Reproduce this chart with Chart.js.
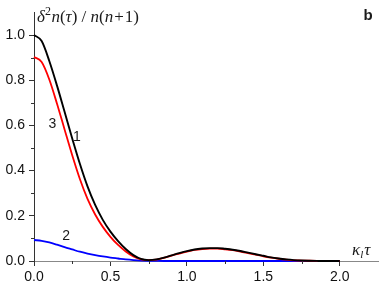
<!DOCTYPE html>
<html><head><meta charset="utf-8">
<script src="https://cdn.jsdelivr.net/npm/chart.js@4/dist/chart.umd.min.js"></script>
<style>html,body{margin:0;padding:0;background:#fff}#wrap{width:382px;height:285px}</style>
</head><body><div id="wrap"><canvas id="c" width="382" height="285"></canvas></div>
<script>
// ---- data ----
const xValues = [0,0.05,0.1,0.15,0.2,0.25,0.3,0.35,0.4,0.45,0.5,0.55,0.6,0.65,0.7,0.75,0.8,0.85,0.9,0.95,1.0,1.05,1.1,1.15,1.2,1.25,1.3,1.35,1.4,1.45,1.5,1.55,1.6,1.65,1.7,1.75,1.8,1.85,1.9,1.95,2.0];
const curve1 = [1.000,0.973,0.885,0.777,0.660,0.542,0.430,0.330,0.248,0.182,0.130,0.088,0.053,0.026,0.009,0.004,0.007,0.015,0.025,0.035,0.044,0.051,0.055,0.057,0.057,0.054,0.050,0.044,0.037,0.030,0.023,0.016,0.011,0.007,0.004,0.002,0.001,0.0004,0,0,0];
const curve3 = [0.903,0.880,0.803,0.697,0.582,0.468,0.363,0.275,0.206,0.151,0.107,0.071,0.042,0.020,0.007,0.004,0.006,0.014,0.024,0.033,0.042,0.049,0.053,0.055,0.055,0.052,0.048,0.042,0.035,0.028,0.021,0.015,0.010,0.006,0.003,0.002,0.001,0.0003,0,0,0];
const curve2 = [0.093,0.089,0.082,0.072,0.061,0.051,0.041,0.033,0.026,0.020,0.015,0.011,0.007,0.004,0.002,0.001,0.0005,0,0,0,0,0,0,0,0,0,0,0,0,0,0,0,0,0,0,0,0,0,0,0,0];
const xTickValues = [0,0.5,1.0,1.5,2.0];
const yTickValues = [0,0.2,0.4,0.6,0.8,1.0];
const xMinorTicks = [0.25,0.75,1.25,1.75];
const yMinorTicks = [0.1,0.3,0.5,0.7,0.9];
const curveLabelText = ['1','2','3'];
const curveLabelX = [0.28,0.211,0.121];
const curveLabelY = [0.549,0.109,0.605];

const pts = ys => xValues.map((x,i)=>({x:x,y:ys[i]}));
const sans = "'Liberation Sans', Arial, sans-serif";
const serif = "'Liberation Serif', 'Times New Roman', serif";

function drawRich(ctx, x, y, segs){
  let cx = x;
  ctx.textBaseline = 'alphabetic';
  ctx.textAlign = 'left';
  for (const s of segs){
    ctx.font = s.f;
    ctx.fillText(s.t, cx, y + (s.dy||0));
    cx += ctx.measureText(s.t).width + (s.sp||0);
  }
}

const extras = {
  id:'extras',
  afterDraw(chart){
    const ctx = chart.ctx, xs = chart.scales.x, ys = chart.scales.y;
    ctx.save();
    // minor ticks
    ctx.strokeStyle = '#333'; ctx.lineWidth = 1;
    ctx.beginPath();
    for (const v of yMinorTicks){ const py = Math.round(ys.getPixelForValue(v))+0.5; ctx.moveTo(xs.left-3, py); ctx.lineTo(xs.left, py); }
    for (const v of xMinorTicks){ const px = Math.round(xs.getPixelForValue(v))+0.5; ctx.moveTo(px, ys.bottom); ctx.lineTo(px, ys.bottom+3); }
    ctx.stroke();
    // curve labels
    ctx.fillStyle = '#1a1a1a';
    ctx.font = '14px ' + sans;
    ctx.textAlign = 'center'; ctx.textBaseline = 'middle';
    curveLabelText.forEach((t,i)=>ctx.fillText(t, xs.getPixelForValue(curveLabelX[i]), ys.getPixelForValue(curveLabelY[i])));
    // panel letter
    ctx.font = 'bold 15px ' + sans;
    ctx.fillText('b', chart.width-14, 16);
    // y title
    const it = 'italic 17px ' + serif, rm = '17px ' + serif, sup = '12px ' + serif;
    drawRich(ctx, xs.left+3, 22, [
      {t:'δ',f:it},{t:'2',f:sup,dy:-7,sp:0.5},{t:'n',f:it},{t:'(',f:rm},{t:'τ',f:it},{t:') / ',f:rm},
      {t:'n',f:it},{t:'(',f:rm},{t:'n',f:it,sp:1},{t:'+',f:rm,sp:1},{t:'1)',f:rm}
    ]);
    // x title
    drawRich(ctx, xs.getPixelForValue(2.08), ys.bottom-6, [
      {t:'κ',f:'italic 17px '+serif},{t:'l',f:'italic 11px '+serif,dy:3,sp:1},{t:'τ',f:'italic 17px '+serif}
    ]);
    ctx.restore();
  }
};

new Chart(document.getElementById('c'), {
  type:'line',
  data:{datasets:[
    {label:'1', data:pts(curve1), borderColor:'#000000', borderWidth:1.9},
    {label:'3', data:pts(curve3), borderColor:'#ff0000', borderWidth:1.8},
    {label:'2', data:pts(curve2), borderColor:'#0000ff', borderWidth:1.8}
  ]},
  options:{
    responsive:false, animation:false, devicePixelRatio:1,
    layout:{padding:{top:6,right:4,left:0,bottom:0}},
    elements:{point:{radius:0}, line:{cubicInterpolationMode:'monotone', fill:false}},
    datasets:{line:{clip:false}},
    plugins:{legend:{display:false}, tooltip:{enabled:false}},
    scales:{
      x:{type:'linear', min:0, max:2.25,
        afterBuildTicks:s=>{s.ticks = xTickValues.map(v=>({value:v}));},
        afterFit:s=>{s.height = 24;},
        ticks:{callback:v=>Number(v).toFixed(1), font:{family:sans,size:14}, color:'#111', padding:3, maxRotation:0, autoSkip:false},
        grid:{display:true, drawOnChartArea:false, drawTicks:true, tickLength:5, color:'#333'},
        border:{display:true, color:'#888', width:1}},
      y:{type:'linear', min:0, max:1.1,
        afterBuildTicks:s=>{s.ticks = yTickValues.map(v=>({value:v}));},
        afterFit:s=>{s.width = 34;},
        ticks:{callback:v=>Number(v).toFixed(1), font:{family:sans,size:14}, color:'#111', padding:4, autoSkip:false},
        grid:{display:true, drawOnChartArea:false, drawTicks:true, tickLength:5, color:'#333'},
        border:{display:true, color:'#333', width:1}}
    }
  },
  plugins:[extras]
});
</script></body></html>
